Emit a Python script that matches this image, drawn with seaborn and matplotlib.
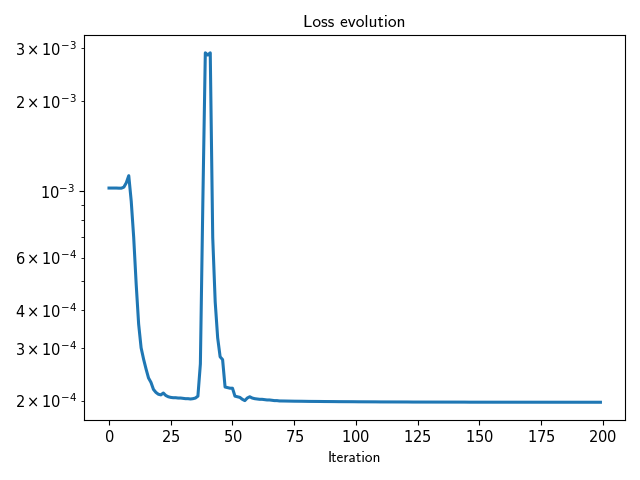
import numpy as np
import pandas as pd
import matplotlib
matplotlib.use('Agg')
import matplotlib.pyplot as plt
import matplotlib.ticker as mticker
import seaborn as sns

# valores de la perdida (en unidades de 1e-4)
loss_0_69 = [
    10.23, 10.23, 10.23, 10.23, 10.22, 10.22, 10.30, 10.65, 11.25, 9.25,
    7.0, 4.9, 3.6, 3.0, 2.75, 2.55, 2.38, 2.30, 2.18, 2.13,
    2.10, 2.09, 2.12, 2.08, 2.06, 2.05, 2.045, 2.045, 2.04, 2.04,
    2.035, 2.03, 2.03, 2.025, 2.03, 2.04, 2.07, 2.65, 9.2, 28.9,
    28.4, 28.9, 7.0, 4.27, 3.24, 2.80, 2.74, 2.22, 2.21, 2.20,
    2.20, 2.07, 2.06, 2.05, 2.02, 2.00, 2.04, 2.06, 2.04, 2.03,
    2.025, 2.02, 2.02, 2.015, 2.01, 2.01, 2.005, 2.0, 2.0, 1.995,
]
loss_70_199 = [
    1.995, 1.994, 1.993, 1.993, 1.992, 1.991, 1.991, 1.990, 1.990, 1.989,
    1.989, 1.988, 1.988, 1.987, 1.987, 1.987, 1.986, 1.986, 1.986, 1.985,
    1.985, 1.985, 1.984, 1.984, 1.984, 1.984, 1.983, 1.983, 1.983, 1.983,
    1.982, 1.982, 1.982, 1.982, 1.981, 1.981, 1.981, 1.981, 1.981, 1.980,
    1.980, 1.980, 1.980, 1.980, 1.980, 1.979, 1.979, 1.979, 1.979, 1.979,
    1.979, 1.979, 1.978, 1.978, 1.978, 1.978, 1.978, 1.978, 1.978, 1.978,
    1.977, 1.977, 1.977, 1.977, 1.977, 1.977, 1.977, 1.977, 1.977, 1.977,
    1.977, 1.977, 1.977, 1.977, 1.977, 1.976, 1.976, 1.976, 1.976, 1.976,
    1.976, 1.976, 1.976, 1.976, 1.976, 1.976, 1.976, 1.976, 1.976, 1.976,
    1.976, 1.976, 1.976, 1.976, 1.976, 1.976, 1.976, 1.976, 1.975, 1.975,
    1.975, 1.975, 1.975, 1.975, 1.975, 1.975, 1.975, 1.975, 1.975, 1.975,
    1.975, 1.975, 1.975, 1.975, 1.975, 1.975, 1.975, 1.975, 1.975, 1.975,
    1.975, 1.975, 1.975, 1.975, 1.975, 1.975, 1.975, 1.975, 1.975, 1.975,
]

loss = np.array(loss_0_69 + loss_70_199) * 1e-4
iteracion = np.arange(len(loss))

df = pd.DataFrame({'Iteration': iteracion, 'loss': loss})

# ------------------------------------------------------- #
#                        GRAFICO                          #
# ------------------------------------------------------- #
plt.rcParams['mathtext.fontset'] = 'cm'
plt.rcParams['axes.formatter.use_mathtext'] = True
plt.rcParams['xtick.labelsize'] = 10.5
plt.rcParams['ytick.labelsize'] = 10.5

fig, ax = plt.subplots(figsize=(6.4, 4.8), dpi=100)
sns.lineplot(data=df, x='Iteration', y='loss', ax=ax, color='#1f77b4', linewidth=2.2)
ax.set_yscale('log')
# etiquetas en los ticks menores (2, 3, 4, 6)
ax.yaxis.set_minor_formatter(mticker.LogFormatterSciNotation(labelOnlyBase=False,
                                                             minor_thresholds=(2, 0.4)))

ax.set_title('Loss evolution', fontfamily='cmss10', fontsize=12.5)
ax.set_xlabel('Iteration', fontfamily='cmss10', fontsize=11)
ax.set_ylabel('')

fig.tight_layout()
fig.savefig('out.png')
